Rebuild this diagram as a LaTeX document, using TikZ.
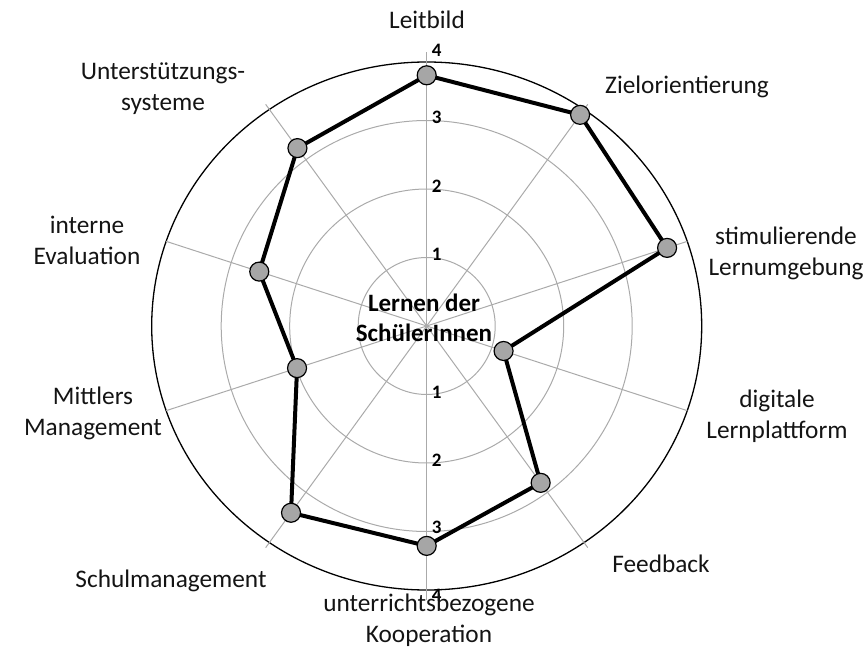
\documentclass[tikz,border=0pt]{standalone}
\usepackage{fontspec}
\setmainfont{Carlito}
\definecolor{gridgray}{RGB}{170,170,170}
\definecolor{markergray}{RGB}{166,166,166}
\definecolor{textdark}{RGB}{20,20,20}
\begin{document}
\begin{tikzpicture}[x=1pt,y=-1pt,
  axislabel/.style={font=\fontsize{25.3}{31}\selectfont, text=textdark, align=center, inner sep=0pt},
  centerlabel/.style={font=\bfseries\fontsize{25}{29.5}\selectfont, text=black, align=center, inner sep=0pt},
  ticklabel/.style={font=\bfseries\fontsize{19}{19}\selectfont, text=black, inner sep=0pt},
  gridline/.style={draw=gridgray, line width=1pt},
  frameline/.style={draw=black, line width=1.3pt},
  series/.style={draw=black, line width=4pt, line join=round},
  marker/.style={circle, fill=markergray, draw=black, line width=1.2pt, minimum size=19pt, inner sep=0pt},
]
\useasboundingbox (0,0) rectangle (868,650);
\def\rstep{68.5}

% radar grid and data series, y pointing up around the centre
\begin{scope}[shift={(426.7,326)}, yscale=-1]
  \draw[frameline] (0,0) ellipse [x radius=275, y radius=264];
  \foreach \r in {1,2,3}
    \draw[gridline] (0,0) circle [radius={\r*\rstep}];
  \foreach \k in {0,...,9}
    \draw[gridline] (0,0) -- ({90-36*\k}:{4*\rstep});
  \foreach \v [count=\k from 0] in {3.66,3.81,3.69,1.18,2.83,3.21,3.37,1.99,2.57,3.21}
    \coordinate (v\k) at ({90-36*\k}:{\v*\rstep});
  \draw[series] (v0) -- (v1) -- (v2) -- (v3) -- (v4) -- (v5) -- (v6) -- (v7) -- (v8) -- (v9) -- cycle;
  \foreach \k in {0,...,9}
    \node[marker] (m\k) at (v\k) {};
\end{scope}

% scale values on the vertical axis
\node[ticklabel] (tu1) at (436.7,254.5) {1};
\node[ticklabel] (tu2) at (436.7,186) {2};
\node[ticklabel] (tu3) at (436.7,117.5) {3};
\node[ticklabel] (tu4) at (436.7,50) {4};
\node[ticklabel] (td1) at (436.7,392) {1};
\node[ticklabel] (td2) at (436.7,460) {2};
\node[ticklabel] (td3) at (436.7,527) {3};
\node[ticklabel] (td4) at (436.7,595) {4};

% centre label
\node[centerlabel] (core) at (424,318) {Lernen der\\SchülerInnen};

% axis labels
\node[axislabel] (a0) at (427,20) {Leitbild};
\node[axislabel] (a1) at (687,87) {Zielorientierung};
\node[axislabel] (a2) at (786,253) {stimulierende\\Lernumgebung};
\node[axislabel] (a3) at (777,416) {digitale\\Lernplattform};
\node[axislabel] (a4) at (661,564) {Feedback};
\node[axislabel] (a5) at (429,620) {unterrichtsbezogene\\Kooperation};
\node[axislabel] (a6) at (171,581) {Schulmanagement};
\node[axislabel] (a7) at (93,413) {Mittlers\\Management};
\node[axislabel] (a8) at (87,240) {interne\\Evaluation};
\node[axislabel] (a9) at (163,89) {Unterstützungs-\\systeme};
\end{tikzpicture}
\end{document}
